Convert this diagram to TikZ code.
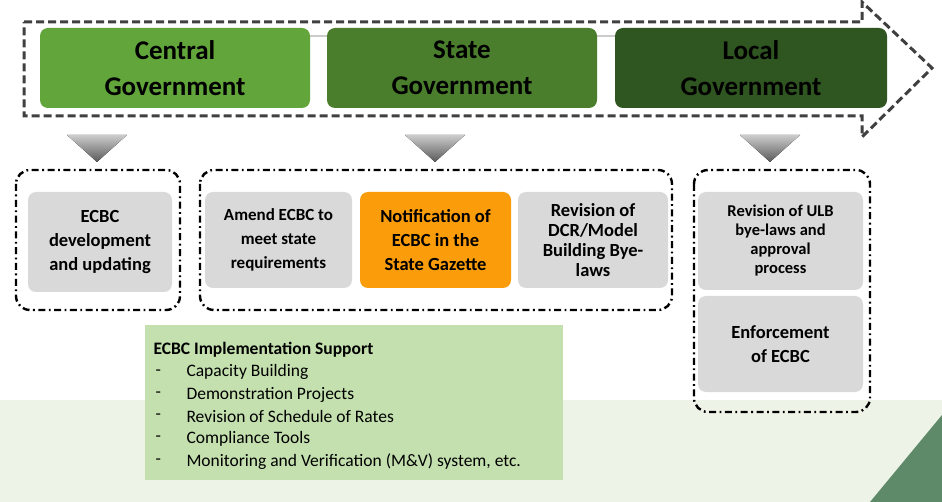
\documentclass[tikz,border=0pt]{standalone}
\usepackage{fontspec}
\setmainfont{Carlito}
\begin{document}
\begin{tikzpicture}[x=1pt,y=-1pt,
  gov/.style={rounded corners=8pt,text=black,font=\bfseries\fontsize{27}{36}\selectfont,align=center},
  gbox/.style={rounded corners=8pt,fill=boxgray,font=\bfseries\fontsize{18.5}{24}\selectfont,align=center},
  dd/.style={line width=2.4pt,rounded corners=14pt,dash pattern=on 7pt off 3.5pt on 1.8pt off 3.5pt},
  tri/.style={top color=white!60!gray,bottom color=gray!70!black,draw=none}]
\definecolor{boxgray}{HTML}{D9D9D9}
\definecolor{g1}{HTML}{62A53A}
\definecolor{g2}{HTML}{4A7E2C}
\definecolor{g3}{HTML}{2F5520}
\definecolor{org}{HTML}{FB9C0A}
\definecolor{lgreen}{HTML}{C3E0AE}
\definecolor{dgt}{HTML}{5F8A6A}
\definecolor{band}{HTML}{EEF3E8}
\useasboundingbox (0,0) rectangle (942,502);
\fill[white] (0,0) rectangle (942,502);
\fill[band] (0,400) rectangle (942,502);
\fill[dgt] (870,502) -- (942,415) -- (942,502) -- cycle;
% connector line
\draw[gray!40,line width=1.5pt] (40,36) -- (887,36);
% arrow outline
\draw[line width=3pt,dash pattern=on 8pt off 4pt,color=black!75] (24,22) -- (862,22) -- (862,2) -- (932,68) -- (862,137) -- (862,116) -- (24,116) -- cycle;
\node[gov,fill=g1,minimum width=270pt,minimum height=80pt] (cg) at (175,68) {Central\\Government};
\node[gov,fill=g2,minimum width=270pt,minimum height=80pt] (sg) at (462,68) {State\\Government};
\node[gov,fill=g3,minimum width=272pt,minimum height=80pt] (lg) at (751,68) {Local\\Government};
% triangles
\foreach \x/\n in {97/ta,435/tb,770/tc}{
  \fill[tri] (\x-30,135) -- (\x+30,135) -- (\x,162) -- cycle;
  \coordinate (\n) at (\x,162);}
% dash-dot groups
\draw[dd] (16,170) rectangle (180,310);
\draw[dd] (200,170) rectangle (672,310);
\draw[dd] (694,170) rectangle (870,412);
\node[gbox,minimum width=144pt,minimum height=100pt] (ecbc) at (100,242) {ECBC\\development\\and updating};
\node[gbox,minimum width=147pt,minimum height=96pt,font=\bfseries\fontsize{17}{24}\selectfont] (amend) at (278.5,240) {Amend ECBC to\\meet state\\requirements};
\node[gbox,fill=org,minimum width=151pt,minimum height=96pt] (notif) at (435.5,240) {Notification of\\ECBC in the\\State Gazette};
\node[gbox,minimum width=150pt,minimum height=96pt,font=\bfseries\fontsize{18.5}{20}\selectfont] (dcr) at (593,240) {Revision of\\DCR/Model\\Building Bye-\\laws};
\node[gbox,minimum width=165pt,minimum height=98pt,font=\bfseries\fontsize{16.5}{19}\selectfont] (ulb) at (780.5,241) {Revision of ULB\\bye-laws and\\approval\\process};
\node[gbox,minimum width=165pt,minimum height=96pt] (enf) at (780.5,344) {Enforcement\\of ECBC};
% support box
\node[fill=lgreen,minimum width=418pt,minimum height=155pt] (sup) at (354,402.5) {};
\node[anchor=west,font=\bfseries\fontsize{17.5}{20}\selectfont] (st) at (150,350) {ECBC Implementation Support};
\foreach \t [count=\i] in {Capacity Building,Demonstration Projects,Revision of Schedule of Rates,Compliance Tools,Monitoring and Verification (M\&V) system{,} etc.}{
  \node[anchor=west,font=\fontsize{17.5}{20}\selectfont] (d\i) at (152,350+22.3*\i) {-};
  \node[anchor=west,font=\fontsize{17.5}{20}\selectfont] (it\i) at (183,350+22.3*\i) {\t};}
\end{tikzpicture}
\end{document}
